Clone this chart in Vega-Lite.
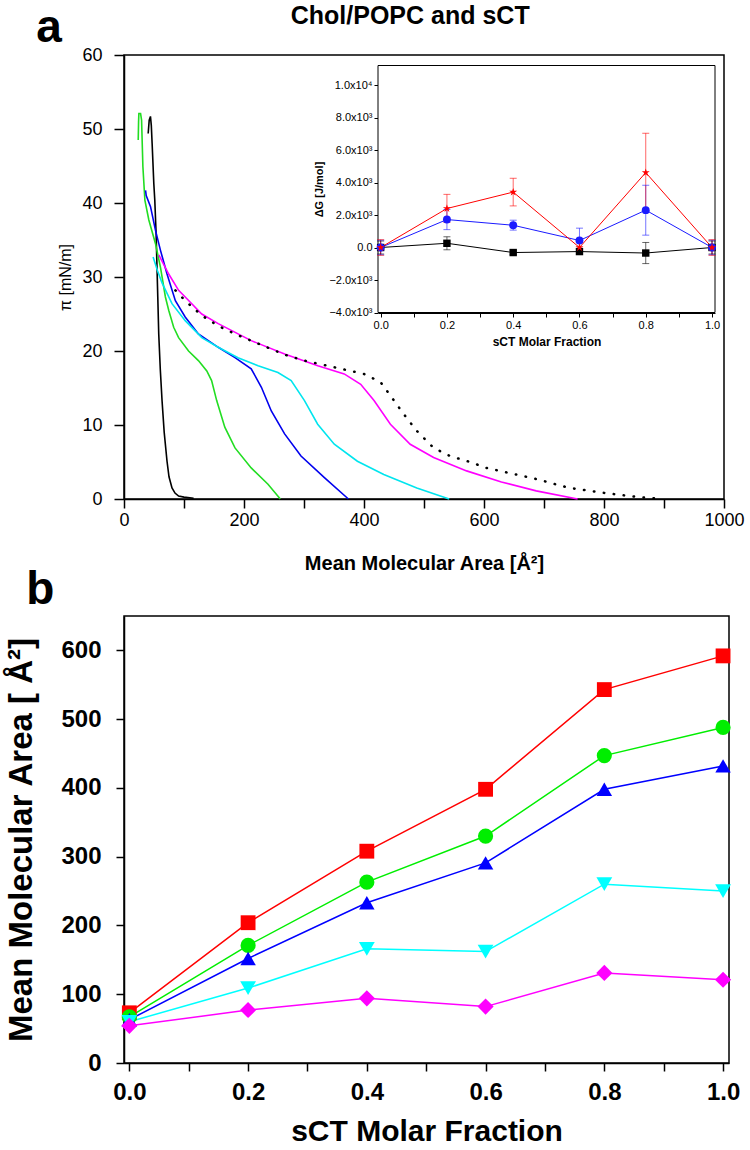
{
  "$schema": "https://vega.github.io/schema/vega-lite/v6.json",
  "background": "white",
  "padding": {"left": 5, "top": 3, "right": 5, "bottom": 0},
  "spacing": 117,
  "bounds": "flush",
  "resolve": {"scale": {"color": "independent", "shape": "independent", "size": "independent"}},
  "config": {
    "font": "Liberation Sans",
    "view": {"stroke": "black", "strokeWidth": 1.5},
    "axis": {"grid": false, "domainColor": "black", "domainWidth": 1.5, "tickColor": "black", "tickWidth": 1.5, "labelColor": "black", "titleColor": "black", "labelFont": "Liberation Sans", "titleFont": "Liberation Sans", "labelOverlap": false, "labelFlush": false}
  },
  "datasets": {
    "iso": [
      {"c":"black","area":40.3,"pi":49.4},{"c":"black","area":42,"pi":51.2},{"c":"black","area":44.1,"pi":51.7},{"c":"black","area":45.5,"pi":50.5},{"c":"black","area":46.9,"pi":48.0},{"c":"black","area":49.7,"pi":42.6},{"c":"black","area":51.3,"pi":40.4},{"c":"black","area":53.5,"pi":35.9},{"c":"black","area":56.3,"pi":27.3},{"c":"black","area":57.9,"pi":22.3},{"c":"black","area":60.5,"pi":17.5},{"c":"black","area":63.4,"pi":13.3},{"c":"black","area":67,"pi":9},{"c":"black","area":71.7,"pi":5.1},{"c":"black","area":75,"pi":3},{"c":"black","area":80,"pi":1.5},{"c":"black","area":85,"pi":0.8},{"c":"black","area":91,"pi":0.4},{"c":"black","area":100,"pi":0.25},{"c":"black","area":116,"pi":0.1},
      {"c":"green","area":23.7,"pi":48.5},{"c":"green","area":24.3,"pi":51},{"c":"green","area":24.8,"pi":52.1},{"c":"green","area":27.6,"pi":52.1},{"c":"green","area":29.3,"pi":51.2},{"c":"green","area":31.5,"pi":44.9},{"c":"green","area":34.8,"pi":40.4},{"c":"green","area":41.4,"pi":37.7},{"c":"green","area":52.5,"pi":34.5},{"c":"green","area":60.8,"pi":31.3},{"c":"green","area":69,"pi":27.3},{"c":"green","area":74.5,"pi":25.5},{"c":"green","area":82.8,"pi":23.2},{"c":"green","area":91,"pi":21.8},{"c":"green","area":107.6,"pi":20.0},{"c":"green","area":124,"pi":18.7},{"c":"green","area":138,"pi":17.3},{"c":"green","area":146,"pi":16.0},{"c":"green","area":154.5,"pi":13.3},{"c":"green","area":168,"pi":9.7},{"c":"green","area":185,"pi":6.9},{"c":"green","area":212,"pi":4.2},{"c":"green","area":240,"pi":2.0},{"c":"green","area":260.5,"pi":0},
      {"c":"blue","area":35.9,"pi":41.7},{"c":"blue","area":37,"pi":41},{"c":"blue","area":44.2,"pi":39.5},{"c":"blue","area":52.5,"pi":36.3},{"c":"blue","area":60.8,"pi":33.6},{"c":"blue","area":71.7,"pi":30.4},{"c":"blue","area":85.6,"pi":26.8},{"c":"blue","area":102,"pi":24.6},{"c":"blue","area":124,"pi":22.3},{"c":"blue","area":157,"pi":20.5},{"c":"blue","area":185,"pi":19.1},{"c":"blue","area":212,"pi":17.6},{"c":"blue","area":229,"pi":15.1},{"c":"blue","area":245.5,"pi":11.9},{"c":"blue","area":267.7,"pi":8.8},{"c":"blue","area":295,"pi":5.8},{"c":"blue","area":334,"pi":2.9},{"c":"blue","area":374,"pi":0},
      {"c":"cyan","area":48.5,"pi":32.7},{"c":"cyan","area":56,"pi":30.8},{"c":"cyan","area":63.4,"pi":29.2},{"c":"cyan","area":80,"pi":26.4},{"c":"cyan","area":102,"pi":24.1},{"c":"cyan","area":129.6,"pi":21.8},{"c":"cyan","area":157,"pi":20.5},{"c":"cyan","area":190,"pi":19.1},{"c":"cyan","area":223.5,"pi":18.0},{"c":"cyan","area":256.6,"pi":17.1},{"c":"cyan","area":278.6,"pi":16.0},{"c":"cyan","area":300.8,"pi":13.3},{"c":"cyan","area":322.8,"pi":10.1},{"c":"cyan","area":350.5,"pi":7.4},{"c":"cyan","area":389,"pi":5.1},{"c":"cyan","area":433,"pi":3.3},{"c":"cyan","area":488,"pi":1.5},{"c":"cyan","area":542,"pi":0},
      {"c":"magenta","area":58,"pi":33.0},{"c":"magenta","area":74.5,"pi":30.4},{"c":"magenta","area":91,"pi":28.2},{"c":"magenta","area":102,"pi":27.3},{"c":"magenta","area":129.6,"pi":25.0},{"c":"magenta","area":157,"pi":23.7},{"c":"magenta","area":212,"pi":21.4},{"c":"magenta","area":267.7,"pi":19.6},{"c":"magenta","area":323,"pi":18.0},{"c":"magenta","area":367,"pi":16.9},{"c":"magenta","area":394.5,"pi":15.5},{"c":"magenta","area":416.7,"pi":13.3},{"c":"magenta","area":444,"pi":10.1},{"c":"magenta","area":477,"pi":7.4},{"c":"magenta","area":516,"pi":5.6},{"c":"magenta","area":571,"pi":3.8},{"c":"magenta","area":629,"pi":2.3},{"c":"magenta","area":687,"pi":1.1},{"c":"magenta","area":756,"pi":0}
    ],
    "dot": [
      {"area":85.6,"pi":28.2},{"area":102,"pi":26.8},{"area":129.6,"pi":24.8},{"area":157,"pi":23.4},{"area":185,"pi":22.3},{"area":223.5,"pi":21.0},{"area":267.7,"pi":19.5},{"area":300.8,"pi":18.7},{"area":334,"pi":18.1},{"area":378,"pi":17.3},{"area":400,"pi":16.9},{"area":427.6,"pi":15.8},{"area":450,"pi":13.3},{"area":466,"pi":11.5},{"area":488,"pi":9.2},{"area":516,"pi":6.9},{"area":543.5,"pi":5.8},{"area":577,"pi":5.0},{"area":604,"pi":4.2},{"area":632,"pi":3.7},{"area":687,"pi":2.7},{"area":742,"pi":1.5},{"area":797.5,"pi":0.85},{"area":852.6,"pi":0.3},{"area":897,"pi":0}
    ],
    "dg": [
      {"s":"black","f":0.0,"g":0,"lo":-400,"hi":400},{"s":"black","f":0.2,"g":260,"lo":-140,"hi":660},{"s":"black","f":0.4,"g":-310,"lo":-420,"hi":-200},{"s":"black","f":0.6,"g":-250,"lo":-400,"hi":-100},{"s":"black","f":0.8,"g":-340,"lo":-990,"hi":310},{"s":"black","f":1.0,"g":0,"lo":-400,"hi":400},
      {"s":"blue","f":0.0,"g":0,"lo":-450,"hi":450},{"s":"blue","f":0.2,"g":1720,"lo":1100,"hi":2340},{"s":"blue","f":0.4,"g":1370,"lo":1070,"hi":1680},{"s":"blue","f":0.6,"g":430,"lo":-330,"hi":1190},{"s":"blue","f":0.8,"g":2300,"lo":760,"hi":3830},{"s":"blue","f":1.0,"g":0,"lo":-450,"hi":450},
      {"s":"red","f":0.0,"g":0,"lo":-480,"hi":480},{"s":"red","f":0.2,"g":2400,"lo":1540,"hi":3270},{"s":"red","f":0.4,"g":3410,"lo":2560,"hi":4260},{"s":"red","f":0.6,"g":0,"lo":-420,"hi":420},{"s":"red","f":0.8,"g":4610,"lo":2220,"hi":7030},{"s":"red","f":1.0,"g":0,"lo":-480,"hi":480}
    ],
    "mma": [
      {"s":"red","f":0.0,"a":73},{"s":"red","f":0.2,"a":204},{"s":"red","f":0.4,"a":308},{"s":"red","f":0.6,"a":398},{"s":"red","f":0.8,"a":543},{"s":"red","f":1.0,"a":592},
      {"s":"green","f":0.0,"a":67},{"s":"green","f":0.2,"a":171},{"s":"green","f":0.4,"a":263},{"s":"green","f":0.6,"a":330},{"s":"green","f":0.8,"a":447},{"s":"green","f":1.0,"a":488},
      {"s":"blue","f":0.0,"a":63},{"s":"blue","f":0.2,"a":152},{"s":"blue","f":0.4,"a":233},{"s":"blue","f":0.6,"a":291},{"s":"blue","f":0.8,"a":398},{"s":"blue","f":1.0,"a":432},
      {"s":"cyan","f":0.0,"a":60},{"s":"cyan","f":0.2,"a":109},{"s":"cyan","f":0.4,"a":166},{"s":"cyan","f":0.6,"a":162},{"s":"cyan","f":0.8,"a":260},{"s":"cyan","f":1.0,"a":250},
      {"s":"magenta","f":0.0,"a":54},{"s":"magenta","f":0.2,"a":77},{"s":"magenta","f":0.4,"a":94},{"s":"magenta","f":0.6,"a":82},{"s":"magenta","f":0.8,"a":131},{"s":"magenta","f":1.0,"a":121}
    ]
  },
  "vconcat": [
    {
      "width": 600,
      "height": 444,
      "layer": [
        {
          "layer": [
            {
              "data": {"name": "iso"},
              "mark": {"type": "line", "strokeWidth": 1.6},
              "encoding": {
                "x": {"field": "area", "type": "quantitative", "scale": {"domain": [0, 1000], "nice": false, "zero": false},
                  "axis": {"title": "Mean Molecular Area [Å²]", "titleFontSize": 20, "titleFontWeight": "bold", "titlePadding": 24, "labelFontSize": 18, "tickSize": 9, "labelPadding": 3, "values": [0,100,200,300,400,500,600,700,800,900,1000], "labelExpr": "datum.value % 200 == 0 ? format(datum.value, 'd') : ''"}},
                "y": {"field": "pi", "type": "quantitative", "scale": {"domain": [0, 60], "nice": false, "zero": false},
                  "axis": {"title": "π [mN/m]", "titleFontSize": 16, "titleFontWeight": "normal", "titlePadding": 8, "labelFontSize": 18, "tickSize": 10, "labelPadding": 12, "values": [0,5,10,15,20,25,30,35,40,45,50,55,60], "labelExpr": "datum.value % 10 == 0 ? datum.label : ''"}},
                "color": {"field": "c", "type": "nominal", "scale": {"domain": ["black", "green", "blue", "cyan", "magenta"], "range": ["#000000", "#22dd22", "#0000ee", "#00e5ee", "#ff00ff"]}, "legend": null},
                "order": {"value": null}
              }
            },
            {
              "data": {"name": "dot"},
              "mark": {"type": "line", "color": "black", "strokeWidth": 2.5, "strokeCap": "round", "strokeDash": [0.5, 9.5]},
              "encoding": {
                "x": {"field": "area", "type": "quantitative", "scale": {"domain": [0, 1000], "nice": false, "zero": false}},
                "y": {"field": "pi", "type": "quantitative", "scale": {"domain": [0, 60], "nice": false, "zero": false}}
              }
            },
            {
              "data": {"values": [{"t": "Chol/POPC and sCT"}]},
              "mark": {"type": "text", "fontSize": 25, "fontWeight": "bold", "align": "center", "baseline": "alphabetic", "color": "black"},
              "encoding": {
                "x": {"datum": 477, "type": "quantitative", "scale": {"domain": [0, 1000], "nice": false, "zero": false}},
                "y": {"datum": 64.2, "type": "quantitative", "scale": {"domain": [0, 60], "nice": false, "zero": false}},
                "text": {"field": "t"}
              }
            },
            {
              "data": {"values": [{"t": "a"}]},
              "mark": {"type": "text", "fontSize": 46, "fontWeight": "bold", "align": "center", "baseline": "alphabetic", "color": "black"},
              "encoding": {
                "x": {"datum": -125, "type": "quantitative", "scale": {"domain": [0, 1000], "nice": false, "zero": false}},
                "y": {"datum": 61.8, "type": "quantitative", "scale": {"domain": [0, 60], "nice": false, "zero": false}},
                "text": {"field": "t"}
              }
            }
          ]
        },
        {
          "layer": [
            {
              "data": {"values": [{"t": "frame"}]},
              "mark": {"type": "rect", "fill": "white", "stroke": "black", "strokeWidth": 1},
              "encoding": {
                "x": {"datum": -0.008, "type": "quantitative", "scale": {"domain": [-0.008, 1.009], "range": [254, 591], "nice": false, "zero": false}},
                "x2": {"datum": 1.009},
                "y": {"datum": -4000, "type": "quantitative", "scale": {"domain": [-4000, 11200], "range": [257.5, 10.5], "nice": false, "zero": false}},
                "y2": {"datum": 11200}
              }
            },
            {
              "data": {"name": "dg"},
              "mark": {"type": "line", "strokeWidth": 1},
              "encoding": {
                "x": {"field": "f", "type": "quantitative", "scale": {"domain": [-0.008, 1.009], "range": [254, 591], "nice": false, "zero": false},
                  "axis": {"orient": "bottom", "offset": -186, "domainWidth": 1, "tickWidth": 1, "tickSize": 4, "labelPadding": 2, "labelFontSize": 11, "title": "sCT Molar Fraction", "titleFontSize": 12, "titleFontWeight": "bold", "titlePadding": 6, "values": [0,0.1,0.2,0.3,0.4,0.5,0.6,0.7,0.8,0.9,1.0], "labelExpr": "round(datum.value*10) % 2 == 0 ? format(datum.value, '.1f') : ''"}},
                "y": {"field": "g", "type": "quantitative", "scale": {"domain": [-4000, 11200], "range": [257.5, 10.5], "nice": false, "zero": false},
                  "axis": {"orient": "left", "offset": -254, "domainWidth": 1, "tickWidth": 1, "tickSize": 4, "labelPadding": 2, "labelFontSize": 11, "title": "ΔG [J/mol]", "titleFontSize": 11, "titleFontWeight": "bold", "titlePadding": 4, "values": [-4000,-3000,-2000,-1000,0,1000,2000,3000,4000,5000,6000,7000,8000,9000,10000,11000], "labelExpr": "datum.value % 2000 != 0 ? '' : (datum.value == 0 ? '0.0' : (datum.value == 10000 ? '1.0x10⁴' : format(datum.value/1000, '.1f') + 'x10³'))"}},
                "color": {"field": "s", "type": "nominal", "scale": {"domain": ["black", "blue", "red"], "range": ["#000000", "#1a1aff", "#ff0000"]}, "legend": null}
              }
            },
            {
              "data": {"name": "dg"},
              "mark": {"type": "rule", "strokeWidth": 1, "opacity": 0.6},
              "encoding": {
                "x": {"field": "f", "type": "quantitative", "scale": {"domain": [-0.008, 1.009], "range": [254, 591], "nice": false, "zero": false}},
                "y": {"field": "lo", "type": "quantitative", "scale": {"domain": [-4000, 11200], "range": [257.5, 10.5], "nice": false, "zero": false}},
                "y2": {"field": "hi"},
                "color": {"field": "s", "type": "nominal", "scale": {"domain": ["black", "blue", "red"], "range": ["#000000", "#1a1aff", "#ff0000"]}, "legend": null}
              }
            },
            {
              "data": {"name": "dg"},
              "transform": [{"fold": ["lo", "hi"], "as": ["end", "v"]}],
              "mark": {"type": "tick", "orient": "horizontal", "size": 7, "thickness": 1, "opacity": 0.6},
              "encoding": {
                "x": {"field": "f", "type": "quantitative", "scale": {"domain": [-0.008, 1.009], "range": [254, 591], "nice": false, "zero": false}},
                "y": {"field": "v", "type": "quantitative", "scale": {"domain": [-4000, 11200], "range": [257.5, 10.5], "nice": false, "zero": false}},
                "color": {"field": "s", "type": "nominal", "scale": {"domain": ["black", "blue", "red"], "range": ["#000000", "#1a1aff", "#ff0000"]}, "legend": null}
              }
            },
            {
              "data": {"name": "dg"},
              "mark": {"type": "point", "filled": true, "opacity": 1},
              "encoding": {
                "x": {"field": "f", "type": "quantitative", "scale": {"domain": [-0.008, 1.009], "range": [254, 591], "nice": false, "zero": false}},
                "y": {"field": "g", "type": "quantitative", "scale": {"domain": [-4000, 11200], "range": [257.5, 10.5], "nice": false, "zero": false}},
                "color": {"field": "s", "type": "nominal", "scale": {"domain": ["black", "blue", "red"], "range": ["#000000", "#1a1aff", "#ff0000"]}, "legend": null},
                "shape": {"field": "s", "type": "nominal", "scale": {"domain": ["black", "blue", "red"], "range": ["square", "circle", "M0,-1L0.2245,-0.309L0.951,-0.309L0.363,0.118L0.588,0.809L0,0.382L-0.588,0.809L-0.363,0.118L-0.951,-0.309L-0.2245,-0.309Z"]}, "legend": null},
                "size": {"field": "s", "type": "nominal", "scale": {"domain": ["black", "blue", "red"], "range": [55, 70, 150]}, "legend": null}
              }
            }
          ]
        }
      ],
      "resolve": {"scale": {"x": "independent", "y": "independent", "color": "independent"}, "axis": {"x": "independent", "y": "independent"}}
    },
    {
      "width": 605,
      "height": 447,
      "layer": [
        {
          "data": {"name": "mma"},
          "mark": {"type": "line", "strokeWidth": 1.5},
          "encoding": {
            "x": {"field": "f", "type": "quantitative", "scale": {"domain": [-0.009, 1.01], "nice": false, "zero": false},
              "axis": {"title": "sCT Molar Fraction", "titleFontSize": 30, "titleFontWeight": "bold", "titlePadding": 12, "labelFontSize": 24, "labelFontWeight": "bold", "tickSize": 8, "labelPadding": 9, "values": [0,0.1,0.2,0.3,0.4,0.5,0.6,0.7,0.8,0.9,1.0], "labelExpr": "round(datum.value*10) % 2 == 0 ? format(datum.value, '.1f') : ''"}},
            "y": {"field": "a", "type": "quantitative", "scale": {"domain": [0, 650], "nice": false, "zero": false},
              "axis": {"title": "Mean Molecular Area [ Å²]", "titleFontSize": 33, "titleFontWeight": "bold", "titlePadding": 22, "labelFontSize": 24, "labelFontWeight": "bold", "tickSize": 8, "labelPadding": 15, "values": [0,50,100,150,200,250,300,350,400,450,500,550,600,650], "labelExpr": "datum.value % 100 == 0 ? datum.label : ''"}},
            "color": {"field": "s", "type": "nominal", "scale": {"domain": ["red", "green", "blue", "cyan", "magenta"], "range": ["#ff0000", "#00ee00", "#0000ff", "#00ffff", "#ff00ff"]}, "legend": null}
          }
        },
        {
          "data": {"name": "mma"},
          "mark": {"type": "point", "filled": true, "opacity": 1},
          "encoding": {
            "x": {"field": "f", "type": "quantitative", "scale": {"domain": [-0.009, 1.01], "nice": false, "zero": false}},
            "y": {"field": "a", "type": "quantitative", "scale": {"domain": [0, 650], "nice": false, "zero": false}},
            "color": {"field": "s", "type": "nominal", "scale": {"domain": ["red", "green", "blue", "cyan", "magenta"], "range": ["#ff0000", "#00ee00", "#0000ff", "#00ffff", "#ff00ff"]}, "legend": null},
            "shape": {"field": "s", "type": "nominal", "scale": {"domain": ["red", "green", "blue", "cyan", "magenta"], "range": ["square", "circle", "triangle-up", "triangle-down", "diamond"]}, "legend": null},
            "size": {"field": "s", "type": "nominal", "scale": {"domain": ["red", "green", "blue", "cyan", "magenta"], "range": [220, 260, 300, 300, 330]}, "legend": null}
          }
        },
        {
          "data": {"values": [{"t": "b"}]},
          "mark": {"type": "text", "fontSize": 46, "fontWeight": "bold", "align": "center", "baseline": "alphabetic", "color": "black"},
          "encoding": {
            "x": {"datum": -0.15, "type": "quantitative", "scale": {"domain": [-0.009, 1.01], "nice": false, "zero": false}},
            "y": {"datum": 667.5, "type": "quantitative", "scale": {"domain": [0, 650], "nice": false, "zero": false}},
            "text": {"field": "t"}
          }
        }
      ]
    }
  ]
}
